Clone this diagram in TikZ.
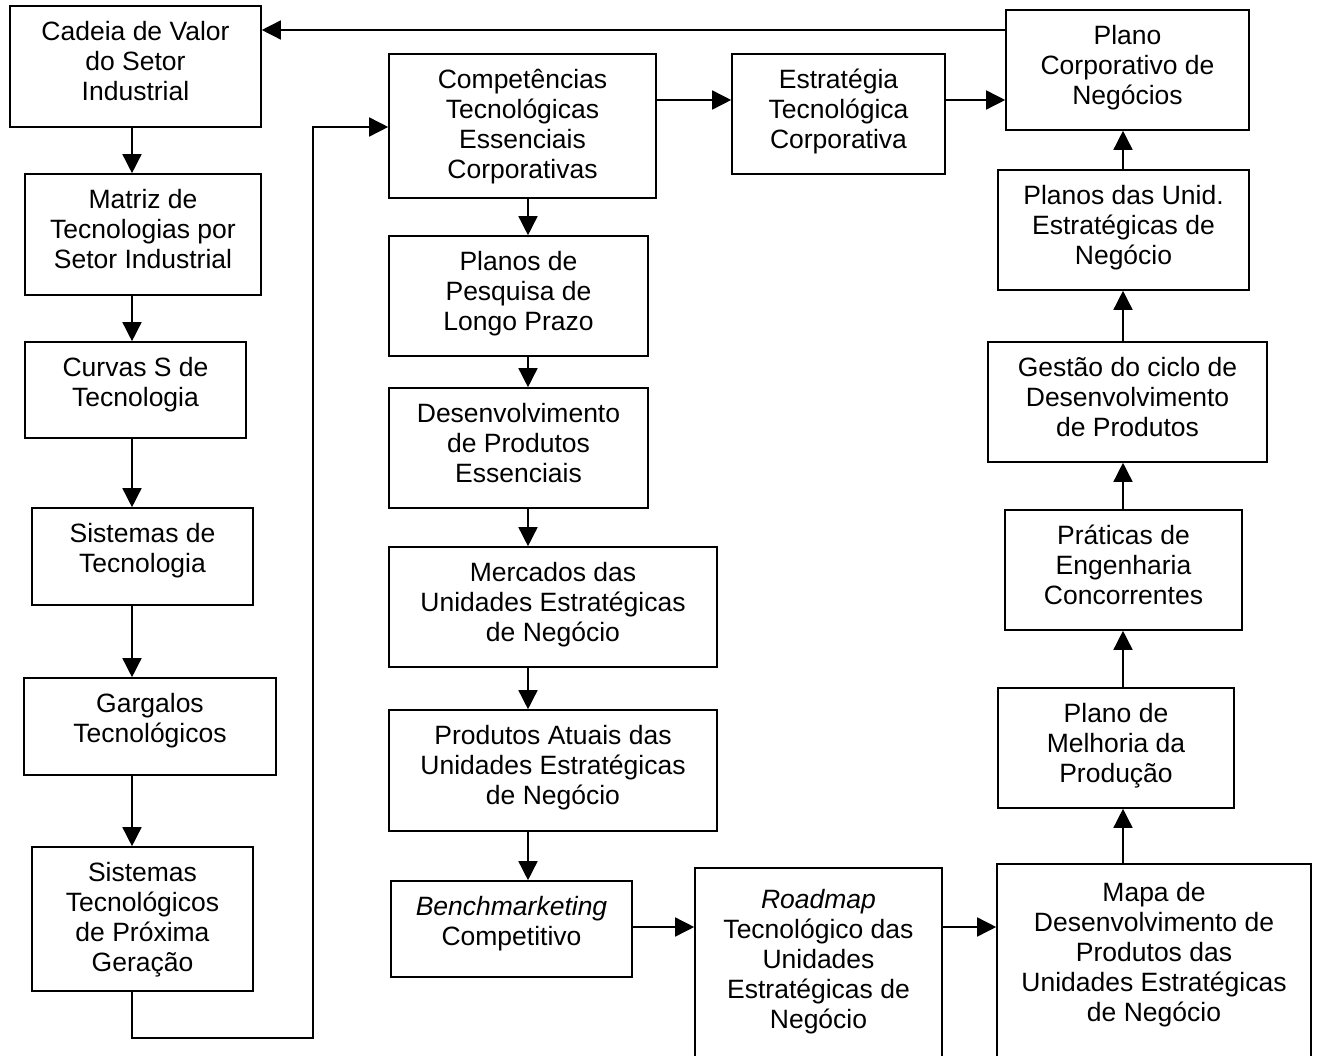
\documentclass[tikz,border=0pt]{standalone}
\usepackage{fontspec}
\setmainfont{Liberation Sans}
\usetikzlibrary{arrows.meta,fit}

\tikzset{
  boxst/.style={draw=black, line width=1.6pt, inner sep=0pt, fill=none},
  txt/.style={inner sep=0pt, anchor=base, font=\fontsize{26.5}{30}\selectfont},
  arr/.style={draw=black, line width=1.5pt, -{Triangle[length=19pt,width=19pt]}},
}

% box: name, left, top, right, bottom
\newcommand\mkbox[5]{\node[boxst, fit={(#2,#3) (#4,#5)}] (#1) {};}
% centred lines of text whose first baseline sits #2 below the top of box #1
\newcommand\mktext[3]{\node[txt] (#1-t) at ([yshift=-#2pt]#1.north) {\begin{tabular}[t]{@{}c@{}}#3\end{tabular}};}

\begin{document}
\begin{tikzpicture}[x=1pt, y=-1pt]
\useasboundingbox (0,0) rectangle (1320,1056);
\clip (0,0) rectangle (1320,1056);
\fill[white] (0,0) rectangle (1320,1056);

% left column
\mkbox{cadeia}{10}{6}{261}{127}
\mkbox{matriz}{25}{174}{261}{295}
\mkbox{curvas}{25}{342}{246}{438}
\mkbox{sistemas}{32}{508}{253}{605}
\mkbox{gargalos}{24}{678}{276}{775}
\mkbox{proxima}{32}{847}{253}{991}

% middle column
\mkbox{compet}{389}{54}{656}{198}
\mkbox{pesquisa}{389}{236}{648}{356}
\mkbox{desenv}{389}{388}{648}{508}
\mkbox{mercados}{389}{547}{717}{667}
\mkbox{atuais}{389}{710}{717}{831}
\mkbox{bench}{391}{881}{632}{977}
\mkbox{estrat}{732}{54}{945}{174}
\mkbox{roadmap}{695}{868}{942}{1075}

% right column
\mkbox{planocorp}{1006}{10}{1249}{130}
\mkbox{planosunid}{998}{170}{1249}{290}
\mkbox{gestao}{988}{342}{1267}{462}
\mkbox{praticas}{1005}{510}{1242}{630}
\mkbox{melhoria}{998}{688}{1234}{808}
\mkbox{mapa}{997}{864}{1311}{1075}

% labels
\mktext{cadeia}{35.5}{Cadeia de Valor\\do Setor\\Industrial}
\mktext{matriz}{35.5}{Matriz de\\Tecnologias por\\Setor Industrial}
\mktext{curvas}{35.5}{Curvas S de\\Tecnologia}
\mktext{sistemas}{35.5}{Sistemas de\\Tecnologia}
\mktext{gargalos}{35.5}{Gargalos\\Tecnológicos}
\mktext{proxima}{35.5}{Sistemas\\Tecnológicos\\de Próxima\\Geração}
\mktext{compet}{35.5}{Competências\\Tecnológicas\\Essenciais\\Corporativas}
\mktext{pesquisa}{35.5}{Planos de\\Pesquisa de\\Longo Prazo}
\mktext{desenv}{35.5}{Desenvolvimento\\de Produtos\\Essenciais}
\mktext{mercados}{35.5}{Mercados das\\Unidades Estratégicas\\de Negócio}
\mktext{atuais}{35.5}{Produtos Atuais das\\Unidades Estratégicas\\de Negócio}
\mktext{bench}{35.5}{\textit{Benchmarketing}\\Competitivo}
\mktext{estrat}{35.5}{Estratégia\\Tecnológica\\Corporativa}
\mktext{roadmap}{41}{\textit{Roadmap}\\Tecnológico das\\Unidades\\Estratégicas de\\Negócio}
\mktext{planocorp}{35.5}{Plano\\Corporativo de\\Negócios}
\mktext{planosunid}{35.5}{Planos das Unid.\\Estratégicas de\\Negócio}
\mktext{gestao}{35.5}{Gestão do ciclo de\\Desenvolvimento\\de Produtos}
\mktext{praticas}{35.5}{Práticas de\\Engenharia\\Concorrentes}
\mktext{melhoria}{35.5}{Plano de\\Melhoria da\\Produção}
\mktext{mapa}{38}{Mapa de\\Desenvolvimento de\\Produtos das\\Unidades Estratégicas\\de Negócio}

% connector guide lines
\coordinate (xl) at (132,0);
\coordinate (xm) at (528,0);
\coordinate (xr) at (1123,0);
\coordinate (ytop) at (0,30);
\coordinate (yce) at (0,100);
\coordinate (ybot) at (0,927);
\coordinate (loopb) at (313,1038);
\coordinate (loopt) at (313,127);

% feedback to the value chain
\draw[arr] (planocorp.west |- ytop) -- (cadeia.east |- ytop);

% left column chain
\draw[arr] (cadeia.south -| xl) -- (matriz.north -| xl);
\draw[arr] (matriz.south -| xl) -- (curvas.north -| xl);
\draw[arr] (curvas.south -| xl) -- (sistemas.north -| xl);
\draw[arr] (sistemas.south -| xl) -- (gargalos.north -| xl);
\draw[arr] (gargalos.south -| xl) -- (proxima.north -| xl);
\draw[arr] (proxima.south -| xl) |- (loopb) -- (loopt) -- (compet.west |- loopt);

% middle column chain
\draw[arr] (compet.south -| xm) -- (pesquisa.north -| xm);
\draw[arr] (pesquisa.south -| xm) -- (desenv.north -| xm);
\draw[arr] (desenv.south -| xm) -- (mercados.north -| xm);
\draw[arr] (mercados.south -| xm) -- (atuais.north -| xm);
\draw[arr] (atuais.south -| xm) -- (bench.north -| xm);

% top row
\draw[arr] (compet.east |- yce) -- (estrat.west |- yce);
\draw[arr] (estrat.east |- yce) -- (planocorp.west |- yce);

% bottom row
\draw[arr] (bench.east |- ybot) -- (roadmap.west |- ybot);
\draw[arr] (roadmap.east |- ybot) -- (mapa.west |- ybot);

% right column chain
\draw[arr] (mapa.north -| xr) -- (melhoria.south -| xr);
\draw[arr] (melhoria.north -| xr) -- (praticas.south -| xr);
\draw[arr] (praticas.north -| xr) -- (gestao.south -| xr);
\draw[arr] (gestao.north -| xr) -- (planosunid.south -| xr);
\draw[arr] (planosunid.north -| xr) -- (planocorp.south -| xr);
\end{tikzpicture}
\end{document}
